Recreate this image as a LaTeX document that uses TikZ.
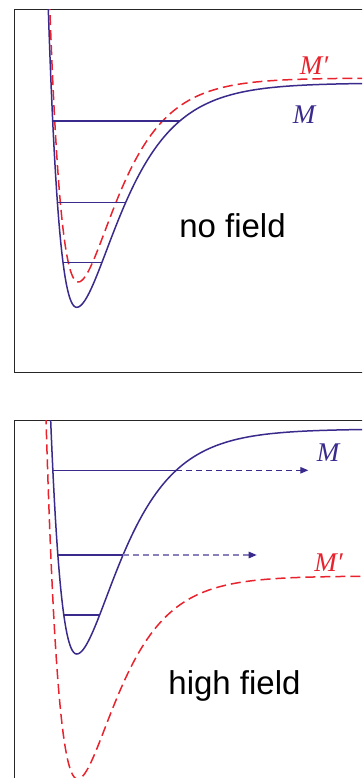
\documentclass[tikz,border=0pt]{standalone}
\usepackage{fontspec}
\setmainfont{Liberation Serif}
\setsansfont{Liberation Sans}
\usetikzlibrary{arrows.meta}
\definecolor{molblue}{RGB}{58,42,140}
\definecolor{molred}{RGB}{232,35,45}
\tikzset{
  declare function={morse(\x,\xo,\yo,\d,\b,\a)=\yo-\d*pow(abs(1-exp(-((\x<\xo)?\b:\a)*(\x-\xo))),2);},
  frame/.style={black!85, line width=0.9pt},
  pot/.style={molblue, line width=1.5pt},
  potx/.style={molred, line width=1.5pt, dash pattern=on 10pt off 5pt},
  level/.style={molblue, line width=1.3pt},
  escape/.style={molblue, line width=1.2pt, dash pattern=on 6pt off 4pt,
    -{Triangle[length=8pt, width=6.5pt, color=molblue]}},
  molname/.style={font=\fontsize{27}{27}\selectfont\itshape, anchor=base, inner sep=0pt},
  fieldtext/.style={font=\sffamily\fontsize{33}{36}\selectfont, anchor=base, inner sep=0pt}
}
\begin{document}
\begin{tikzpicture}[x=1pt, y=-1pt]
  \useasboundingbox (0,0) rectangle (362,778);
  \clip (0,0) rectangle (362,778);
  % no field
  \draw[frame] (14.5,9.2) rectangle (380,372);
  \begin{scope}
    \clip (14.5,9.2) rectangle (362,372);
    \draw[potx] plot[domain=48:365, samples=300] (\x, {morse(\x,78.3,282,204,0.027,0.026)});
    \draw[pot] plot[domain=47:365, samples=300] (\x, {morse(\x,76.7,307.3,224.3,0.027,0.0235)});
  \end{scope}
  \foreach \y/\xl/\xr in {121/52.7/179.8, 202.7/57.4/125.6, 262.7/63.0/101.8}
    \draw[level] (\xl,\y) -- (\xr,\y);
  \node[molname, text=molred] (mp1) at (314,75) {M′};
  \node[molname, text=molblue] (m1) at (304,123.3) {M};
  \node[fieldtext] (nofield) at (232.5,237.3) {no field};
  % high field
  \draw[frame] (14.5,420.5) rectangle (380,800);
  \begin{scope}
    \clip (14.5,420.5) rectangle (362,778);
    \draw[potx] plot[domain=45:365, samples=300] (\x, {morse(\x,77.7,779,203,0.0267,0.0255)});
    \draw[pot] plot[domain=49:365, samples=300] (\x, {morse(\x,76.7,654,225,0.027,0.0235)});
  \end{scope}
  \coordinate (e1) at (176.2,470.3);
  \coordinate (e1tip) at (308.3,470.3);
  \coordinate (e2) at (123.0,555);
  \coordinate (e2tip) at (256.7,555);
  \draw[level] (52.9,470.3) -- (e1);
  \draw[level] (57.9,555) -- (e2);
  \draw[level] (63.8,615) -- (99.6,615);
  \draw[escape] (e1) -- (e1tip);
  \draw[escape, molblue!60] (e2) -- (e2tip);
  \node[molname, text=molblue] (m2) at (328,461.7) {M};
  \node[molname, text=molred] (mp2) at (328.5,571) {M′};
  \node[fieldtext] (highfield) at (234.5,694) {high field};
\end{tikzpicture}
\end{document}
